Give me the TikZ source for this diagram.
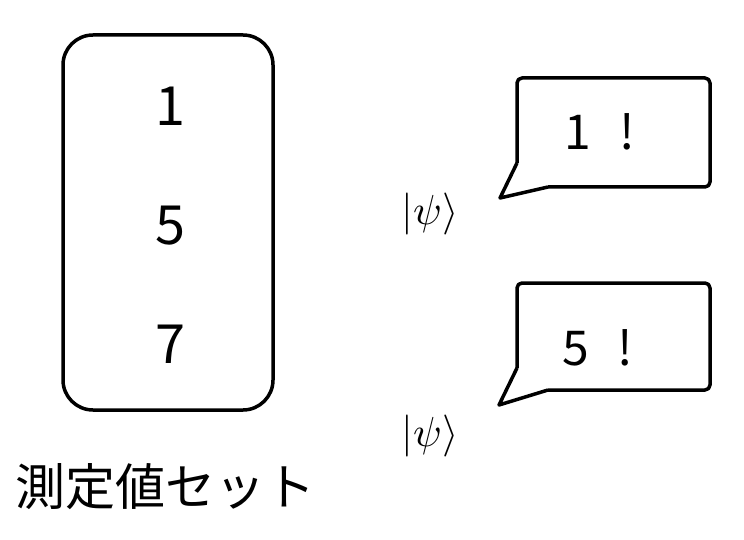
\documentclass[tikz,border=0pt]{standalone}
\usepackage{graphicx}
\usepackage{fontspec}
\setmainfont{Noto Sans CJK JP}
\newfontfamily\cjk{Noto Sans CJK JP}
\newcommand{\bigket}{\scalebox{4.2}{$|\psi\rangle$}}
\begin{document}
\begin{tikzpicture}[x=1pt,y=-1pt,
  boxline/.style={line width=3.5pt, line join=round},
  digit/.style={font=\fontsize{54}{54}\selectfont, inner sep=0pt, anchor=center},
  shout/.style={font=\fontsize{48}{48}\selectfont, inner sep=0pt, anchor=center},
  ket/.style={inner sep=0pt, anchor=center}]
\useasboundingbox (0,0) rectangle (744,540);
% measurement set box
\node[draw, boxline, rounded corners=30pt, minimum width=210pt, minimum height=375pt, inner sep=0pt] (set) at (168,222.5) {};
\node[digit] (d1) at (170,106) {1};
\node[digit] (d5) at (170,226) {5};
\node[digit] (d7) at (170,344) {7};
\node[font=\fontsize{50}{50}\selectfont\cjk, inner sep=0pt] (lab) at (165,487) {測定値セット};
% bubble 1
\draw[boxline, rounded corners=5pt] (517,163) -- (517,78) -- (710,78) -- (710,187) -- (548,187);
\draw[boxline] (548,187) -- (500,198) -- (517,163);
\node[shout] (b1) at (600,132) {1\hspace{0.6em}!};
\node[ket] (k1) at (430,214) {\bigket};
% bubble 2
\draw[boxline, rounded corners=5pt] (517,368) -- (517,283) -- (710,283) -- (710,390) -- (548,390);
\draw[boxline] (548,390) -- (499,405) -- (517,368);
\node[shout] (b2) at (598,348) {5\hspace{0.6em}!};
\node[ket] (k2) at (430,436) {\bigket};
\end{tikzpicture}
\end{document}
